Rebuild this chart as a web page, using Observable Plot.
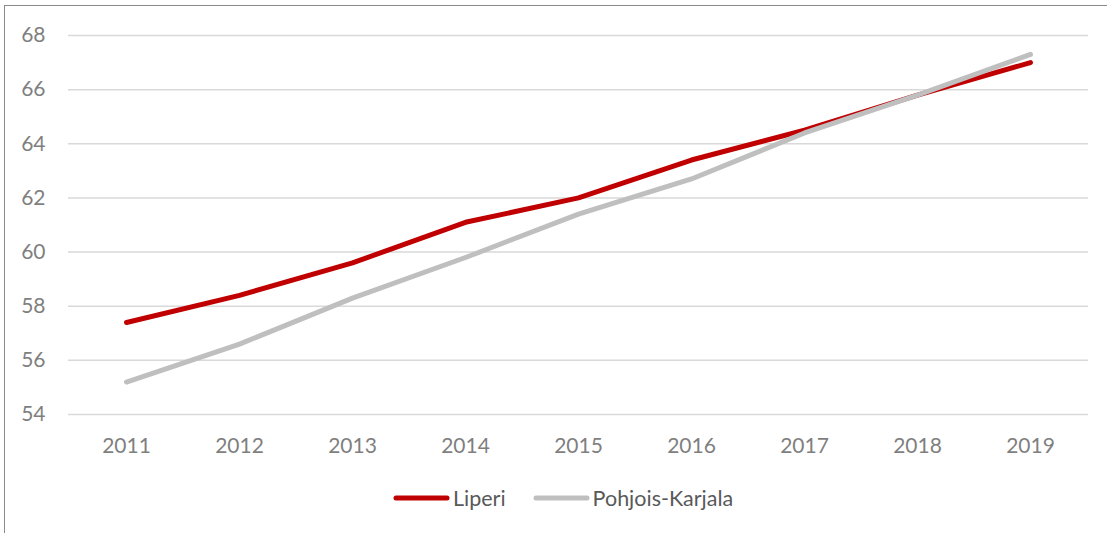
<!DOCTYPE html>
<html>
<head>
<meta charset="utf-8">
<script src="https://cdn.jsdelivr.net/npm/d3@7"></script>
<script src="https://cdn.jsdelivr.net/npm/@observablehq/plot@0.6"></script>
<style>
  html, body { margin: 0; padding: 0; background: #fff; width: 1107px; height: 533px; overflow: hidden; }
  #frame { position: absolute; left: 4px; top: 5px; width: 1200px; height: 700px;
           border-left: 1.5px solid #8a8a8a; border-top: 1.5px solid #8a8a8a; box-sizing: border-box; }
  #chart { position: absolute; left: 0; top: 0; }
  #legend { position: absolute; left: 393px; top: 485px; display: flex; align-items: center;
            font-family: Lato, "Open Sans", sans-serif; font-size: 21.5px; color: #595959; line-height: 26px; }
  .item { display: flex; align-items: center; margin-right: 27px; }
  .item svg { margin-right: 3px; }
</style>
</head>
<body>
<div id="frame"></div>
<div id="chart"></div>
<div id="legend"></div>
<script>
const years = ["2011","2012","2013","2014","2015","2016","2017","2018","2019"];
const liperi = [57.4, 58.4, 59.6, 61.1, 62.0, 63.4, 64.5, 65.8, 67.0];
const pohjoisKarjala = [55.2, 56.6, 58.3, 59.8, 61.4, 62.7, 64.4, 65.8, 67.3];
const seriesNames = ["Liperi", "Pohjois-Karjala"];
const seriesColors = ["#C00000", "#BFBFBF"];
const yTicks = [54, 56, 58, 60, 62, 64, 66, 68];

const data = [];
years.forEach((y, i) => {
  data.push({year: y, value: liperi[i], series: seriesNames[0]});
  data.push({year: y, value: pohjoisKarjala[i], series: seriesNames[1]});
});

const chart = Plot.plot({
  width: 1107,
  height: 478,
  marginLeft: 68,
  marginRight: 19,
  marginTop: 35,
  marginBottom: 64,
  style: { fontFamily: "Lato, 'Open Sans', sans-serif", fontSize: "21px", color: "#7f7f7f", background: "transparent" },
  x: { type: "point", domain: years, padding: 0.5, label: null },
  y: { domain: [54, 68], ticks: yTicks, label: null },
  color: { domain: seriesNames, range: seriesColors },
  marks: [
    Plot.gridY(yTicks, { stroke: "#d9d9d9", strokeOpacity: 1, strokeWidth: 1.5 }),
    Plot.axisY(yTicks, { tickSize: 0, tickPadding: 23, fill: "#7f7f7f", label: null }),
    Plot.axisX({ tickSize: 0, tickPadding: 24, fill: "#7f7f7f", label: null }),
    Plot.line(data, { x: "year", y: "value", z: "series", stroke: "series",
      strokeWidth: 5, strokeLinecap: "round", strokeLinejoin: "round" })
  ]
});
document.getElementById("chart").appendChild(chart);

const legend = document.getElementById("legend");
seriesNames.forEach((name, i) => {
  const item = document.createElement("div");
  item.className = "item";
  item.innerHTML = `<svg width="57" height="8"><line x1="3" y1="4" x2="54" y2="4" stroke="${seriesColors[i]}" stroke-width="5" stroke-linecap="round"/></svg><span>${name}</span>`;
  legend.appendChild(item);
});
</script>
</body>
</html>
